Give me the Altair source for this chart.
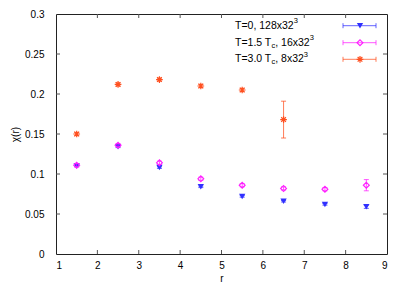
import altair as alt
import pandas as pd

# ---- data ----
r_vals = [1.5, 2.5, 3.5, 4.5, 5.5, 6.5, 7.5, 8.5]

t0_y = [0.110, 0.134, 0.108, 0.084, 0.072, 0.066, 0.062, 0.059]
t0_e = [0.001, 0.001, 0.001, 0.001, 0.001, 0.001, 0.001, 0.002]

t15_y = [0.111, 0.136, 0.114, 0.094, 0.086, 0.082, 0.081, 0.086]
t15_e = [0.002, 0.002, 0.002, 0.002, 0.002, 0.002, 0.002, 0.007]

t3_r = [1.5, 2.5, 3.5, 4.5, 5.5, 6.5]
t3_y = [0.150, 0.212, 0.218, 0.210, 0.205, 0.168]
t3_e = [0.002, 0.002, 0.002, 0.002, 0.002, 0.023]

x_ticks = [1, 2, 3, 4, 5, 6, 7, 8, 9]
y_ticks = [0, 0.05, 0.1, 0.15, 0.2, 0.25, 0.3]

W, H = 331, 240
BLUE, MAG, ORA = "#3030ff", "#ff20ff", "#ff5020"
FONT = "Liberation Sans"

xs = alt.Scale(domain=[1, 9], nice=False, zero=False)
ys = alt.Scale(domain=[0, 0.3], nice=False, zero=False)
AXX = alt.Axis(values=x_ticks, format="d", ticks=False, domain=False, grid=False,
               labelPadding=6, titlePadding=3, labelOverlap=False)
AXY = alt.Axis(values=y_ticks, format="~g", ticks=False, domain=False, grid=False,
               labelPadding=12, titlePadding=4, labelOverlap=False)


def X(f):
    return alt.X(f, scale=xs, axis=AXX, title="r")


def Y(f):
    return alt.Y(f, scale=ys, axis=AXY, title="χ(r)")


def frame(r, y, e):
    return pd.DataFrame({"r": r, "y": y, "lo": [a - b for a, b in zip(y, e)],
                         "hi": [a + b for a, b in zip(y, e)]})


d0, d15, d3 = frame(r_vals, t0_y, t0_e), frame(r_vals, t15_y, t15_e), frame(t3_r, t3_y, t3_e)

STAR = "M-1,0L1,0M0,-1L0,1M-0.7,-0.7L0.7,0.7M-0.7,0.7L0.7,-0.7"


def series(df, color, shape, filled, size):
    base = alt.Chart(df)
    bar = base.mark_rule(color=color, opacity=0.75, strokeWidth=1).encode(
        x=X("r:Q"), y=Y("lo:Q"), y2="hi:Q")
    cap_lo = base.mark_rule(color=color, opacity=0.75, xOffset=-2.5, x2Offset=2.5).encode(
        x=X("r:Q"), x2="r:Q", y=Y("lo:Q"))
    cap_hi = base.mark_rule(color=color, opacity=0.75, xOffset=-2.5, x2Offset=2.5).encode(
        x=X("r:Q"), x2="r:Q", y=Y("hi:Q"))
    if filled:
        pt = base.mark_point(shape=shape, filled=True, color=color, size=size, opacity=1)
    else:
        pt = base.mark_point(shape=shape, filled=False, color=color, size=size,
                             strokeWidth=1.2, opacity=1)
    pt = pt.encode(x=X("r:Q"), y=Y("y:Q"))
    return [bar, cap_lo, cap_hi, pt]


# ---- axes (labels only) and inward ticks ----
axes = alt.Chart(pd.DataFrame({"x": [1, 9], "y": [0, 0.3]})).mark_point(opacity=0).encode(
    x=X("x:Q"), y=Y("y:Q"))

xt = alt.Chart(pd.DataFrame({"v": x_ticks[1:-1]}))
yt = alt.Chart(pd.DataFrame({"v": y_ticks[1:-1]}))
TC = "#555555"
ticks = [
    xt.mark_rule(color=TC).encode(x=X("v:Q"), y=alt.value(H), y2=alt.value(H - 4)),
    xt.mark_rule(color=TC).encode(x=X("v:Q"), y=alt.value(0), y2=alt.value(4)),
    yt.mark_rule(color=TC).encode(y=Y("v:Q"), x=alt.value(0), x2=alt.value(4)),
    yt.mark_rule(color=TC).encode(y=Y("v:Q"), x=alt.value(W), x2=alt.value(W - 4)),
]

# ---- legend ----
ARIAL = {"T": 611, "=": 584, ",": 278, ".": 278, " ": 278, "x": 500, "c": 500}
FS, FSS = 10.5, 7.5


def tw(s, fs):
    return sum(ARIAL.get(ch, 556) for ch in s) * fs / 1000.0


LX, L1, L2, LM = 179, 287, 320, 304
legend_rows = [
    (11.7, [("T=0, 128x32", 0), ("3", 1)], BLUE, "triangle-down", True, 40),
    (28.7, [("T=1.5 T", 0), ("c", -1), (", 16x32", 0), ("3", 1)], MAG, "diamond", False, 34),
    (45.3, [("T=3.0 T", 0), ("c", -1), (", 8x32", 0), ("3", 1)], ORA, STAR, False, 45),
]
one = alt.Chart(pd.DataFrame({"a": [0]}))
legend = []
for (ly, pieces, col, shp, fil, sz) in legend_rows:
    x = LX
    for txt, kind in pieces:
        fs = FS if kind == 0 else FSS
        dy = 0 if kind == 0 else (-4.5 if kind == 1 else 3)
        legend.append(one.mark_text(text=txt, align="left", baseline="middle", font=FONT,
                                    fontSize=fs, dy=dy, color="#000000").encode(
            x=alt.value(x), y=alt.value(ly)))
        x += tw(txt, fs)
    legend.append(one.mark_rule(color=col, opacity=0.75).encode(
        x=alt.value(L1), x2=alt.value(L2), y=alt.value(ly)))
    for cx in (L1, L2):
        legend.append(one.mark_rule(color=col, opacity=0.75).encode(
            x=alt.value(cx), y=alt.value(ly - 2.5), y2=alt.value(ly + 2.5)))
    if fil:
        legend.append(one.mark_point(shape=shp, filled=True, color=col, size=sz, opacity=1).encode(
            x=alt.value(LM), y=alt.value(ly)))
    else:
        legend.append(one.mark_point(shape=shp, filled=False, color=col, size=sz,
                                     strokeWidth=1.2, opacity=1).encode(
            x=alt.value(LM), y=alt.value(ly)))

layers = [axes] + ticks + series(d0, BLUE, "triangle-down", True, 40) \
    + series(d15, MAG, "diamond", False, 34) + series(d3, ORA, STAR, False, 45) + legend

chart = alt.layer(*layers).properties(
    width=W, height=H,
    autosize=alt.AutoSizeParams(type="none"),
    padding={"left": 48, "top": 6, "right": 16, "bottom": 36},
).configure_view(stroke="#222222", strokeWidth=1).configure_axis(
    labelFont=FONT, titleFont=FONT, labelFontSize=10, titleFontSize=10,
    labelColor="#000000", titleColor="#000000", titleFontWeight="normal")

chart.save("out.html", embed_options={"renderer": "svg", "actions": False})
